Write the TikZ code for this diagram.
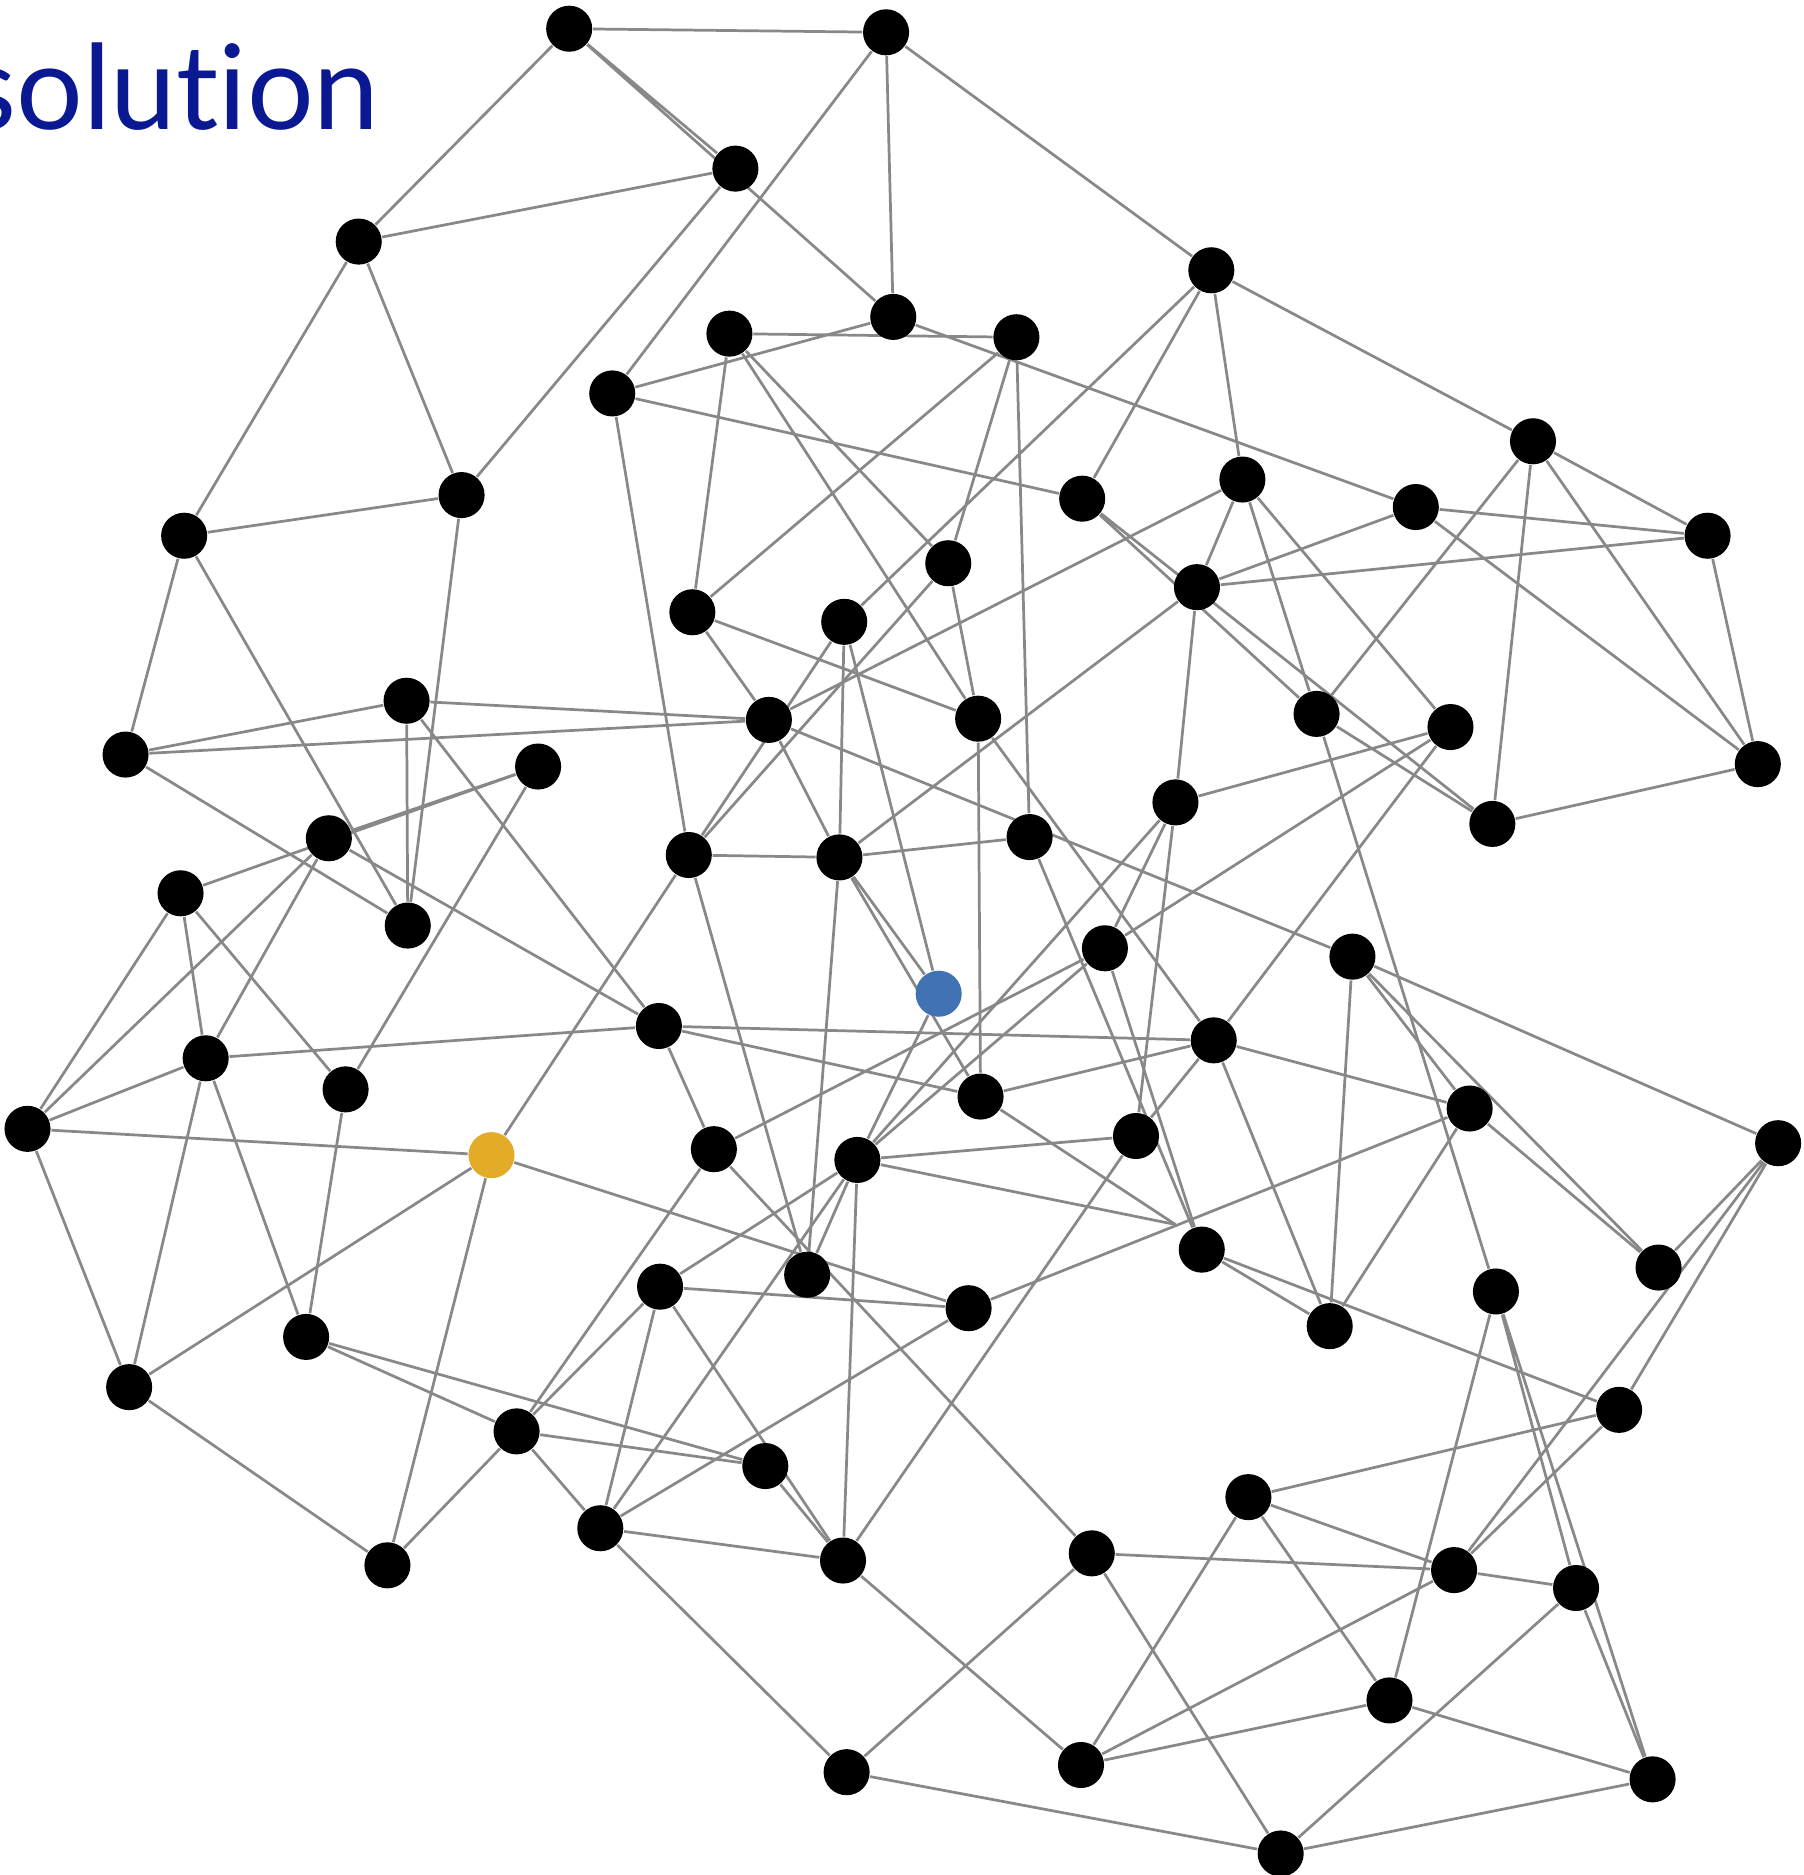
\documentclass[tikz,border=0pt]{standalone}
\usepackage{fontspec}
\setmainfont{Lato}[Ligatures={NoCommon,NoContextual}]
\usetikzlibrary{backgrounds}
\definecolor{titleblue}{RGB}{10,25,145}
\definecolor{linkgray}{RGB}{136,136,136}
\definecolor{startblue}{RGB}{65,115,180}
\definecolor{goalyellow}{RGB}{226,172,40}

\begin{document}
\begin{tikzpicture}[x=0.01cm, y=-0.01cm,
    vertex/.style={circle, fill=black, inner sep=0pt, minimum size=3.85mm},
    link/.style={draw=linkgray, line width=0.65pt}]
    \useasboundingbox (0,0) rectangle (1508,1568);
    \node[anchor=base east, inner sep=0pt, text=titleblue, font=\fontsize{28}{30}\selectfont] (title) at (318,108) {solution};

    \node[vertex] (nA) at (476,24) {};
    \node[vertex] (nB) at (741,27) {};
    \node[vertex] (nC) at (615,141) {};
    \node[vertex] (nD) at (300,202) {};
    \node[vertex] (nE) at (1013,226) {};
    \node[vertex] (nF) at (747,265) {};
    \node[vertex] (nG) at (610,279) {};
    \node[vertex] (nH) at (850,282) {};
    \node[vertex] (nI) at (512,329) {};
    \node[vertex] (nJ) at (1282,369) {};
    \node[vertex] (nK) at (386,414) {};
    \node[vertex] (nL) at (905,417) {};
    \node[vertex] (nM) at (1039,401) {};
    \node[vertex] (nN) at (1184,424) {};
    \node[vertex] (nO) at (154,448) {};
    \node[vertex] (nP) at (1428,448) {};
    \node[vertex] (nQ) at (793,471) {};
    \node[vertex] (nR) at (1001,491) {};
    \node[vertex] (nS) at (579,512) {};
    \node[vertex] (nT) at (706,520) {};
    \node[vertex] (nU) at (340,586) {};
    \node[vertex] (nV) at (643,602) {};
    \node[vertex] (nW) at (818,601) {};
    \node[vertex] (nX) at (1101,597) {};
    \node[vertex] (nY) at (1213,608) {};
    \node[vertex] (nZ) at (105,631) {};
    \node[vertex] (na) at (1470,639) {};
    \node[vertex] (nb) at (450,641) {};
    \node[vertex] (nc) at (983,671) {};
    \node[vertex] (nd) at (1248,689) {};
    \node[vertex] (ne) at (275,701) {};
    \node[vertex] (nf) at (576,715) {};
    \node[vertex] (ng) at (702,717) {};
    \node[vertex] (nh) at (861,700) {};
    \node[vertex] (ni) at (151,747) {};
    \node[vertex] (nj) at (341,774) {};
    \node[vertex] (nk) at (924,793) {};
    \node[vertex] (nl) at (1131,800) {};
    \node[vertex, fill=startblue] (nblue) at (785,831) {};
    \node[vertex] (nm) at (551,858) {};
    \node[vertex] (nn) at (1015,870) {};
    \node[vertex] (no) at (172,885) {};
    \node[vertex] (np) at (289,911) {};
    \node[vertex] (nq) at (820,917) {};
    \node[vertex] (nr) at (1229,927) {};
    \node[vertex] (ns) at (23,944) {};
    \node[vertex] (nt) at (1487,956) {};
    \node[vertex] (nu) at (950,950) {};
    \node[vertex] (nv) at (597,961) {};
    \node[vertex, fill=goalyellow] (nyel) at (411,966) {};
    \node[vertex] (nw) at (717,970) {};
    \node[vertex] (nx) at (1005,1045) {};
    \node[vertex] (ny) at (1387,1060) {};
    \node[vertex] (nz) at (675,1066) {};
    \node[vertex] (naa) at (552,1076) {};
    \node[vertex] (nab) at (810,1094) {};
    \node[vertex] (nac) at (1112,1109) {};
    \node[vertex] (nad) at (1251,1080) {};
    \node[vertex] (nae) at (256,1118) {};
    \node[vertex] (naf) at (108,1160) {};
    \node[vertex] (nag) at (1354,1179) {};
    \node[vertex] (nah) at (432,1197) {};
    \node[vertex] (nai) at (640,1226) {};
    \node[vertex] (naj) at (1044,1252) {};
    \node[vertex] (nak) at (502,1278) {};
    \node[vertex] (nal) at (705,1305) {};
    \node[vertex] (nam) at (913,1299) {};
    \node[vertex] (nan) at (1216,1313) {};
    \node[vertex] (nao) at (1318,1328) {};
    \node[vertex] (nap) at (324,1309) {};
    \node[vertex] (naq) at (1162,1422) {};
    \node[vertex] (nar) at (708,1482) {};
    \node[vertex] (nas) at (904,1476) {};
    \node[vertex] (nat) at (1382,1488) {};
    \node[vertex] (nau) at (1071,1550) {};
    \coordinate (nxv) at (983,1024);

    \begin{scope}[on background layer]
    \draw[link] (nA) -- (nB) (nA) -- (nC) (nA) -- (nF) (nA) -- (nD);
    \draw[link] (nB) -- (nI) (nB) -- (nF) (nB) -- (nE);
    \draw[link] (nC) -- (nD) (nC) -- (nK);
    \draw[link] (nD) -- (nO) (nD) -- (nK);
    \draw[link] (nE) -- (nJ) (nE) -- (nL) (nE) -- (nT) (nE) -- (nM);
    \draw[link] (nF) -- (nI) (nF) -- (nN);
    \draw[link] (nG) -- (nH) (nG) -- (nS) (nG) -- (nW) (nG) -- (nQ);
    \draw[link] (nH) -- (nS) (nH) -- (nQ) (nH) -- (nh);
    \draw[link] (nI) -- (nL) (nI) -- (nf);
    \draw[link] (nJ) -- (nP) (nJ) -- (na) (nJ) -- (nd) (nJ) -- (nX);
    \draw[link] (nK) -- (nO) (nK) -- (nj);
    \draw[link] (nL) -- (nX) (nL) -- (nd);
    \draw[link] (nM) -- (nR) (nM) -- (nX) (nM) -- (nY) (nM) -- (nV);
    \draw[link] (nN) -- (nP) (nN) -- (na) (nN) -- (nR);
    \draw[link] (nO) -- (nZ) (nO) -- (nj);
    \draw[link] (nP) -- (nR) (nP) -- (na);
    \draw[link] (nQ) -- (nW) (nQ) -- (nf);
    \draw[link] (nR) -- (nc) (nR) -- (ng);
    \draw[link] (nS) -- (nW) (nS) -- (nV);
    \draw[link] (nT) -- (nf) (nT) -- (ng) (nT) -- (nblue);
    \draw[link] (nU) -- (nZ) (nU) -- (nV) (nU) -- (nj) (nU) -- (nm);
    \draw[link] (nV) -- (nZ) (nV) -- (ng) (nV) -- (nl);
    \draw[link] (nW) -- (nn) (nW) -- (nq);
    \draw[link] (nX) -- (nd) (nX) -- (nad);
    \draw[link] (nY) -- (nc) (nY) -- (nk) (nY) -- (nn);
    \draw[link] (nZ) -- (nj);
    \draw[link] (na) -- (nd);
    \draw[link] (nb) -- (ne) (nb) -- (ni) (nb) -- (np);
    \draw[link] (nc) -- (nk) (nc) -- (nu);
    \draw[link] (ne) -- (ns) (ne) -- (no) (ne) -- (nm);
    \draw[link] (nf) -- (ng) (nf) -- (nyel) (nf) -- (nz);
    \draw[link] (ng) -- (nh) (ng) -- (nblue) (ng) -- (nq) (ng) -- (nz);
    \draw[link] (nh) -- (nx);
    \draw[link] (ni) -- (ns) (ni) -- (no) (ni) -- (np);
    \draw[link] (nk) -- (nv) (nk) -- (nx) (nk) -- (nw);
    \draw[link] (nl) -- (nr) (nl) -- (nt) (nl) -- (nac) (nl) -- (ny);
    \draw[link] (nm) -- (no) (nm) -- (nn) (nm) -- (nq) (nm) -- (nv);
    \draw[link] (nn) -- (nu) (nn) -- (nq) (nn) -- (nr) (nn) -- (nac);
    \draw[link] (no) -- (naf) (no) -- (nae) (no) -- (ns);
    \draw[link] (np) -- (nae);
    \draw[link] (nq) -- (nxv);
    \draw[link] (nr) -- (nac) (nr) -- (nab) (nr) -- (ny);
    \draw[link] (ns) -- (nyel) (ns) -- (naf);
    \draw[link] (nt) -- (ny) (nt) -- (nan) (nt) -- (nag);
    \draw[link] (nu) -- (nw) (nu) -- (nal);
    \draw[link] (nv) -- (nah) (nv) -- (nam);
    \draw[link] (nyel) -- (naf) (nyel) -- (nap) (nyel) -- (nab);
    \draw[link] (nw) -- (nblue) (nw) -- (nal) (nw) -- (nz) (nw) -- (naa) (nw) -- (nxv) (nw) -- (nc) (nw) -- (nak);
    \draw[link] (nx) -- (nac) (nx) -- (nag);
    \draw[link] (nab) -- (naa) (nab) -- (nak);
    \draw[link] (nad) -- (naq) (nad) -- (nao) (nad) -- (nat);
    \draw[link] (nae) -- (nah) (nae) -- (nai);
    \draw[link] (naf) -- (nap);
    \draw[link] (nag) -- (naj) (nag) -- (nan);
    \draw[link] (nah) -- (nai) (nah) -- (nak) (nah) -- (naa) (nah) -- (nap);
    \draw[link] (nai) -- (nal);
    \draw[link] (naj) -- (nan) (naj) -- (naq) (naj) -- (nas);
    \draw[link] (nak) -- (naa) (nak) -- (nal) (nak) -- (nar);
    \draw[link] (naa) -- (nal);
    \draw[link] (nal) -- (nas);
    \draw[link] (nam) -- (nan) (nam) -- (nar) (nam) -- (nau);
    \draw[link] (nan) -- (nao) (nan) -- (nas);
    \draw[link] (nao) -- (nat) (nao) -- (nau);
    \draw[link] (naq) -- (nat) (naq) -- (nas);
    \draw[link] (nar) -- (nau);
    \draw[link] (nat) -- (nau);
    \end{scope}
\end{tikzpicture}
\end{document}
